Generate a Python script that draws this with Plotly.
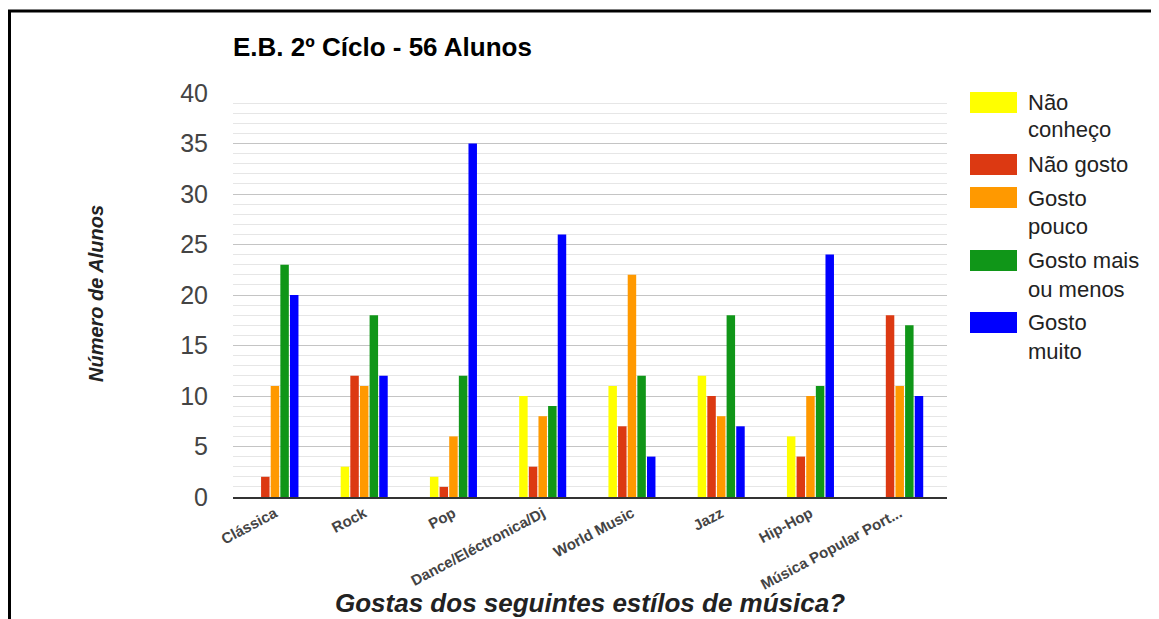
import plotly.graph_objects as go

categories = ["Clássica", "Rock", "Pop", "Dance/Eléctronica/Dj", "World Music",
              "Jazz", "Hip-Hop", "Música Popular Port..."]
series_names = ["Não conheço", "Não gosto", "Gosto pouco", "Gosto mais ou menos", "Gosto muito"]
legend_lines = [["Não", "conheço"], ["Não gosto"], ["Gosto", "pouco"],
                ["Gosto mais", "ou menos"], ["Gosto", "muito"]]
nao_conheco = [0, 3, 2, 10, 11, 12, 6, 0]
nao_gosto = [2, 12, 1, 3, 7, 10, 4, 18]
gosto_pouco = [11, 11, 6, 8, 22, 8, 10, 11]
gosto_mais_ou_menos = [23, 18, 12, 9, 12, 18, 11, 17]
gosto_muito = [20, 12, 35, 26, 4, 7, 24, 10]
series_values = [nao_conheco, nao_gosto, gosto_pouco, gosto_mais_ou_menos, gosto_muito]
colors = ["#FFFF00", "#DC3912", "#FF9900", "#109618", "#0000FF"]

FONT = "Liberation Sans, Arial, sans-serif"
OFF = 8  # page body margin
W, H = 1159 - OFF, 619 - OFF
# plot area in screenshot pixels
PX0, PX1, PY0, PY1 = 233, 947, 93, 497
L, R, T, B = PX0 - OFF, (W + OFF) - PX1, PY0 - OFF, (H + OFF) - PY1
PW, PH = PX1 - PX0, PY1 - PY0

def px_x(p):
    return (p - PX0) / PW

def px_y(p):
    return (PY1 - p) / PH

fig = go.Figure()
for name, vals, col in zip(series_names, series_values, colors):
    fig.add_trace(go.Bar(x=list(range(len(categories))), y=vals, name=name,
                         marker=dict(color=col, line=dict(width=0)), showlegend=False))

# manual legend
box_tops = [92, 154, 187, 250, 312]
line_centers = [[102, 130], [164], [198, 227], [260, 289], [322, 351]]
shapes = []
annotations = []
for i, col in enumerate(colors):
    shapes.append(dict(type="rect", xref="paper", yref="paper",
                       x0=px_x(970), x1=px_x(1017), y0=px_y(box_tops[i] + 21), y1=px_y(box_tops[i]),
                       fillcolor=col, line=dict(width=0)))
    for txt, yc in zip(legend_lines[i], line_centers[i]):
        annotations.append(dict(text=txt, xref="paper", yref="paper", x=px_x(1026), y=px_y(yc),
                                xanchor="left", yanchor="middle", showarrow=False,
                                font=dict(family=FONT, size=22, color="#222222")))

# frame
shapes.append(dict(type="rect", xref="paper", yref="paper",
                   x0=px_x(9.5), x1=px_x(1175), y0=px_y(660), y1=px_y(11),
                   line=dict(color="#000000", width=3), fillcolor="rgba(0,0,0,0)"))

annotations.append(dict(text="Número de Alunos", xref="paper", yref="paper",
                        x=px_x(96), y=px_y(294), textangle=-90, showarrow=False,
                        xanchor="center", yanchor="middle",
                        font=dict(family=FONT, size=20, color="#222222", style="italic", weight="bold")))
annotations.append(dict(text="Gostas dos seguintes estílos de música?", xref="paper", yref="paper",
                        x=px_x(590), y=px_y(603), showarrow=False,
                        xanchor="center", yanchor="middle",
                        font=dict(family=FONT, size=26, color="#222222", style="italic", weight="bold")))

fig.update_layout(
    width=W, height=H,
    margin=dict(l=L, r=R, t=T, b=B, autoexpand=False),
    paper_bgcolor="white", plot_bgcolor="white",
    barmode="group", bargap=0.46, bargroupgap=0.12,
    title=dict(text="E.B. 2º Cíclo - 56 Alunos", x=px_x(233), xanchor="left", xref="paper",
               y=1 - (47 - OFF) / H, yanchor="middle", yref="container",
               font=dict(family=FONT, size=26, color="#000000", weight="bold")),
    shapes=shapes, annotations=annotations,
    xaxis=dict(tickmode="array", tickvals=list(range(len(categories))), ticktext=categories,
               range=[-0.47, 7.53], tickangle=-28, showgrid=False, ticks="",
               showline=True, linecolor="#333333", linewidth=2,
               tickfont=dict(family=FONT, size=15, color="#444444", weight="bold")),
    yaxis=dict(range=[0, 40], dtick=5, tick0=0, showgrid=True, gridcolor="#c4c4c4", gridwidth=1,
               zeroline=False, ticks="", ticklabelstandoff=24,
               minor=dict(dtick=1, showgrid=True, gridcolor="#e6e6e6", gridwidth=1),
               tickfont=dict(family=FONT, size=25, color="#444444")),
)

fig.write_html("out.html")
